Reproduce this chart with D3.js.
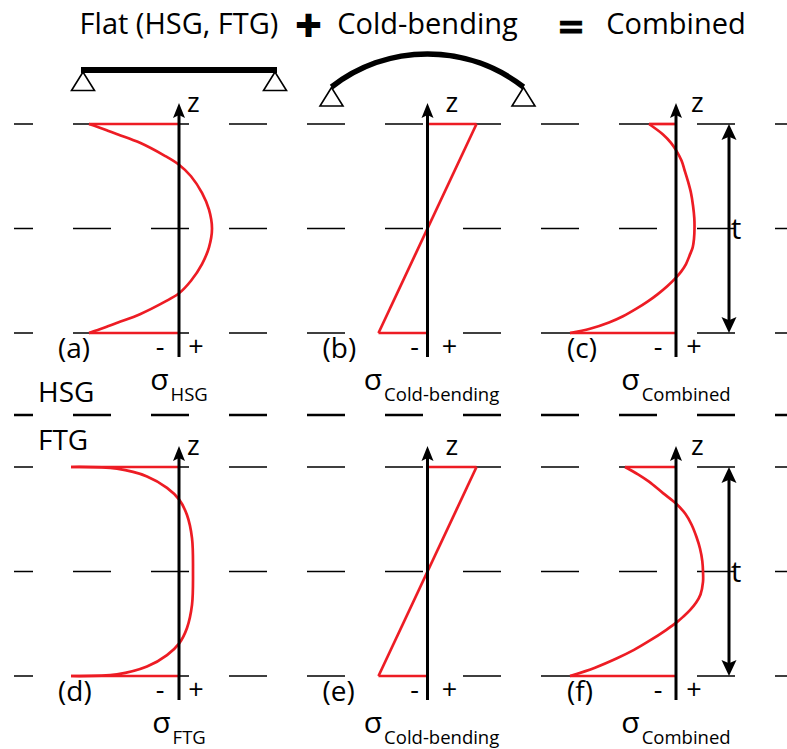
<!DOCTYPE html>
<html>
<head>
<meta charset="utf-8">
<script src="https://cdn.jsdelivr.net/npm/d3@7"></script>
<style>
  body { margin: 0; background: #fff; }
  svg { display: block; font-family: "Open Sans", sans-serif; }
</style>
</head>
<body>
<svg id="chart"></svg>
<script>
// stress profiles through the glass thickness, z = 1 (top face) .. -1 (bottom face)
const zHSG          = [1, 0.95, 0.9, 0.82, 0.7, 0.61, 0.5, 0.34, 0.18, 0, -0.18, -0.34, -0.5, -0.62, -0.7, -0.82, -0.9, -0.95, -1];
const sigmaHSG      = [-90, -75, -61, -39, -15, 0, 12, 23, 30, 33, 30, 23, 12, 0, -14, -39, -61, -75, -90];
const zCold         = [1, -1];
const sigmaCold     = [49, -49];
const zCombHSG      = [1, 0.9, 0.82, 0.75, 0.65, 0.56, 0.45, 0.34, 0.22, 0.1, 0, -0.1, -0.18, -0.26, -0.34, -0.41, -0.47, -0.55, -0.63, -0.7, -0.77, -0.84, -0.9, -0.96, -1];
const sigmaCombHSG  = [-27, -13, -5, 0, 5.5, 8.5, 12, 15, 17, 18.3, 18.5, 18, 16.7, 13.5, 10, 5.3, 0, -8.5, -18.5, -28.5, -40, -53, -67, -86, -106];
const zFTG          = [1, 0.984, 0.91, 0.8, 0.69, 0.54, 0.32, 0, -0.32, -0.54, -0.69, -0.8, -0.91, -0.984, -1];
const sigmaFTG      = [-108, -62, -32, -12, 0, 8, 13, 14, 13, 8, 0, -12, -32, -62, -108];
const zCombFTG      = [1, 0.93, 0.86, 0.75, 0.65, 0.55, 0.45, 0.33, 0.22, 0.1, 0, -0.1, -0.22, -0.3, -0.37, -0.43, -0.48, -0.56, -0.66, -0.75, -0.83, -0.92, -1];
const sigmaCombFTG  = [-51, -38, -27, -13, 0, 9.5, 15.5, 20.5, 24, 26.3, 27, 27, 24.5, 20, 14, 7.5, 1.5, -10, -26, -42, -59, -81, -106];

const panelLabels   = ["(a)", "(b)", "(c)", "(d)", "(e)", "(f)"];
const sigmaSubs     = ["HSG", "Cold-bending", "Combined", "FTG", "Cold-bending", "Combined"];
const titles        = ["Flat (HSG, FTG)", "Cold-bending", "Combined"];
const glassTypes    = ["HSG", "FTG"];
const gridZ         = [1, 0, -1];

const width = 787, height = 749;
const red = "#ed1c24", ink = "#000";

const svg = d3.select("#chart").attr("width", width).attr("height", height);

const colX = d3.scalePoint().domain([0, 1, 2]).range([179, 676]);
const rowY = [
  d3.scaleLinear().domain([-1, 1]).range([333, 124]),
  d3.scaleLinear().domain([-1, 1]).range([676, 467])
];
const sx = d3.scaleLinear().domain([-100, 100]).range([-100, 100]);

const smooth = d3.curveCatmullRom.alpha(0.5);
const profiles = [
  {z: zHSG, s: sigmaHSG, curve: smooth},
  {z: zCold, s: sigmaCold, curve: d3.curveLinear},
  {z: zCombHSG, s: sigmaCombHSG, curve: smooth},
  {z: zFTG, s: sigmaFTG, curve: smooth},
  {z: zCold, s: sigmaCold, curve: d3.curveLinear},
  {z: zCombFTG, s: sigmaCombFTG, curve: smooth}
];

// per-column text offsets from the axis
const zOff     = [8, 18, 15],
  minusOff     = [-19, -13, -18],
  plusOff      = [17, 22, 18],
  labelOff     = [-121, -105, -109];

// dashed level lines
const grid = svg.append("g");
rowY.forEach(y => {
  gridZ.forEach(z => {
    grid.append("line")
      .attr("x1", 14).attr("x2", width)
      .attr("y1", y(z)).attr("y2", y(z))
      .attr("stroke", ink).attr("stroke-width", 1.4)
      .attr("stroke-dasharray", "38,40").attr("stroke-dashoffset", 19);
  });
});
grid.append("line")
  .attr("x1", 14).attr("x2", width)
  .attr("y1", 415).attr("y2", 415)
  .attr("stroke", ink).attr("stroke-width", 2.4)
  .attr("stroke-dasharray", "38,40").attr("stroke-dashoffset", 19);

function arrowHead(g, x, tipY, dir, w, len) {
  // dir = -1 points up, 1 points down
  g.append("path")
    .attr("d", `M${x},${tipY} L${x - w / 2},${tipY - dir * len} L${x},${tipY - dir * len * 0.8} L${x + w / 2},${tipY - dir * len} Z`)
    .attr("fill", ink);
}

profiles.forEach((p, i) => {
  const row = Math.floor(i / 3), col = i % 3;
  const ax = colX(col), y = rowY[row];
  const g = svg.append("g").attr("transform", `translate(${ax},0)`);
  const pts = p.z.map((z, k) => ({z: z, s: p.s[k]}));

  const line = d3.line()
    .x(d => sx(d.s))
    .y(d => y(d.z))
    .curve(p.curve);

  // surface lines
  [pts[0], pts[pts.length - 1]].forEach(d => {
    g.append("line")
      .attr("x1", sx(0)).attr("x2", sx(d.s))
      .attr("y1", y(d.z)).attr("y2", y(d.z))
      .attr("stroke", red).attr("stroke-width", 2.7);
  });

  g.append("path")
    .attr("d", line(pts))
    .attr("fill", "none")
    .attr("stroke", red)
    .attr("stroke-width", 2.7)
    .attr("stroke-linejoin", "round");

  // z axis
  g.append("line")
    .attr("x1", 0).attr("x2", 0)
    .attr("y1", y(-1) + 24).attr("y2", y(1) - 10)
    .attr("stroke", ink).attr("stroke-width", 3);
  arrowHead(g, 0, y(1) - 21, -1, 12, 15);

  g.append("text")
    .attr("x", zOff[col]).attr("y", y(1) - 12)
    .attr("font-size", 27).attr("fill", ink)
    .text("z");

  g.append("text")
    .attr("x", minusOff[col]).attr("y", y(-1) + 23)
    .attr("text-anchor", "middle")
    .attr("font-size", 27).attr("fill", ink)
    .text("-");
  g.append("text")
    .attr("x", plusOff[col]).attr("y", y(-1) + 23)
    .attr("text-anchor", "middle")
    .attr("font-size", 27).attr("fill", ink)
    .text("+");

  g.append("text")
    .attr("x", labelOff[col]).attr("y", y(-1) + 25)
    .attr("font-size", 28).attr("fill", ink)
    .text(panelLabels[i]);

  const sig = g.append("text")
    .attr("x", col == 1 ? 4 : 0).attr("y", y(-1) + 57)
    .attr("text-anchor", "middle")
    .attr("font-size", 30).attr("fill", ink);
  sig.append("tspan").text("σ");
  sig.append("tspan").attr("font-size", 18.5).attr("dy", 11).attr("dx", 2).text(sigmaSubs[i]);

  // thickness arrow on combined panels
  if (col == 2) {
    const tx = 53;
    g.append("line")
      .attr("x1", tx).attr("x2", tx)
      .attr("y1", y(1) + 8).attr("y2", y(-1) - 8)
      .attr("stroke", ink).attr("stroke-width", 3);
    arrowHead(g, tx, y(1), -1, 15, 16);
    arrowHead(g, tx, y(-1), 1, 15, 16);
    g.append("text")
      .attr("x", tx + 2).attr("y", y(0) + 10)
      .attr("font-size", 29).attr("fill", ink)
      .text("t");
  }
});

// glass type labels
svg.append("text").attr("x", 38).attr("y", 402)
  .attr("font-size", 28).attr("fill", ink).text(glassTypes[0]);
svg.append("text").attr("x", 38).attr("y", 450)
  .attr("font-size", 28).attr("fill", ink).text(glassTypes[1]);

// titles
titles.forEach((t, i) => {
  svg.append("text")
    .attr("x", colX(i)).attr("y", 34)
    .attr("text-anchor", "middle")
    .attr("font-size", 29).attr("fill", ink)
    .text(t);
});
svg.append("text").attr("x", 308.5).attr("y", 36)
  .attr("text-anchor", "middle")
  .style("font-family", "'DejaVu Sans', sans-serif").attr("font-weight", "bold")
  .attr("font-size", 34).attr("fill", ink)
  .attr("stroke", ink).attr("stroke-width", 2)
  .text("+");
svg.append("text").attr("x", 571).attr("y", 38)
  .attr("text-anchor", "middle")
  .style("font-family", "'DejaVu Sans', sans-serif").attr("font-weight", "bold")
  .attr("font-size", 34).attr("fill", ink)
  .attr("stroke", ink).attr("stroke-width", 0.8)
  .text("=");

// beams
const span = 96;
const beams = svg.append("g");
function support(x, y) {
  beams.append("path")
    .attr("d", `M${x},${y} L${x - 11.5},${y + 18.5} L${x + 11.5},${y + 18.5} Z`)
    .attr("fill", "#fff").attr("stroke", ink).attr("stroke-width", 1.6)
    .attr("stroke-linejoin", "miter");
}
support(colX(0) - span, 72);
support(colX(0) + span, 72);
beams.append("line")
  .attr("x1", colX(0) - span - 2).attr("x2", colX(0) + span + 2)
  .attr("y1", 70).attr("y2", 70)
  .attr("stroke", ink).attr("stroke-width", 6);

support(colX(1) - span, 87.5);
support(colX(1) + span, 87.5);
const sag = 33;
const R = (span * span + sag * sag) / (2 * sag);
beams.append("path")
  .attr("d", `M${colX(1) - span},${87} A${R},${R} 0 0 1 ${colX(1) + span},${87}`)
  .attr("fill", "none").attr("stroke", ink).attr("stroke-width", 5.5);
</script>
</body>
</html>
